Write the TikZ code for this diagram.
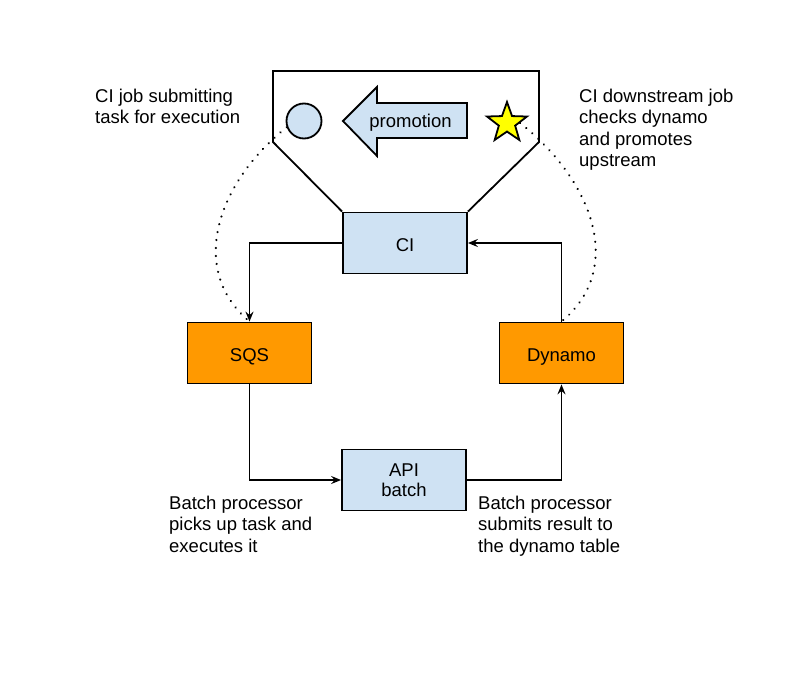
\documentclass[tikz,border=0pt]{standalone}
\usepackage{fontspec}
\setmainfont{Liberation Sans}
\usetikzlibrary{arrows.meta,shapes.geometric}
\definecolor{lblue}{HTML}{CFE2F3}
\definecolor{orng}{HTML}{FF9900}
\definecolor{yel}{HTML}{FFFF00}
\tikzset{
  box/.style={draw=black, line width=1.8pt, minimum width=124pt, minimum height=61pt, inner sep=0pt, font=\fontsize{18.5}{21.5}\selectfont, align=center},
  oneline/.style={text height=16pt, text depth=0pt},
  bluebox/.style={box, fill=lblue},
  orangebox/.style={box, fill=orng},
  conn/.style={line width=1.6pt, -{Stealth[length=10pt,width=8pt,inset=3.5pt]}},
  dots/.style={line width=2.4pt, line cap=round, dash pattern=on 0.01pt off 8pt},
  label/.style={anchor=north west, inner sep=0pt, align=left, font=\fontsize{18.5}{21.5}\selectfont},
  outline/.style={draw=black, line width=1.8pt}
}
\begin{document}
\begin{tikzpicture}[x=1pt,y=-1pt]
\useasboundingbox[fill=white] (0,0) rectangle (812,699);

% boxes
\node[bluebox, oneline] (ci) at (405,243) {CI};
\node[orangebox, oneline] (sqs) at (249.5,353) {SQS};
\node[orangebox, oneline] (dyn) at (561.5,353) {Dynamo};
\node[bluebox] (api) at (404,480) {\raisebox{-1pt}{API}\\batch};

% funnel
\draw[outline, line join=miter] (ci.north west) -- (273,142) -- (273,71) -- (539,71) -- (539,142) -- (ci.north east);

% circle
\node[outline, circle, fill=lblue, minimum size=35pt, inner sep=0pt] (circ) at (304,121) {};

% promotion arrow
\draw[outline, fill=lblue, line join=miter] (343,121) -- (377,87) -- (377,103) -- (467,103) -- (467,138) -- (377,138) -- (377,156) -- cycle;
\node[inner sep=0pt, anchor=base, font=\fontsize{18.5}{21.5}\selectfont] (promo) at (410.5,127.5) {promotion};

% star
\node[outline, star, star points=5, star point ratio=2.45, fill=yel, minimum size=42pt, inner sep=0pt] (star) at (507,123) {};

% connectors
\draw[conn] (ci.west) -| (sqs.north);
\draw[conn] (dyn.north) |- (ci.east);
\draw[conn] (sqs.south) |- (api.west);
\draw[conn] (api.east) -| (dyn.south);

% dotted
\draw[dots] (circ.200) .. controls (220,180) and (186,268) .. (sqs.north);
\draw[dots] (star.east) .. controls (592,180) and (626,268) .. (dyn.north);

% labels
\node[label] (l1) at (95,88.5) {CI job submitting\\task for execution};
\node[label] (l2) at (579,88.5) {CI downstream job\\checks dynamo\\and promotes\\upstream};
\node[label] (l3) at (169,495.5) {Batch processor\\picks up task and\\executes it};
\node[label] (l4) at (478,495.5) {Batch processor\\submits result to\\the dynamo table};
\end{tikzpicture}
\end{document}
